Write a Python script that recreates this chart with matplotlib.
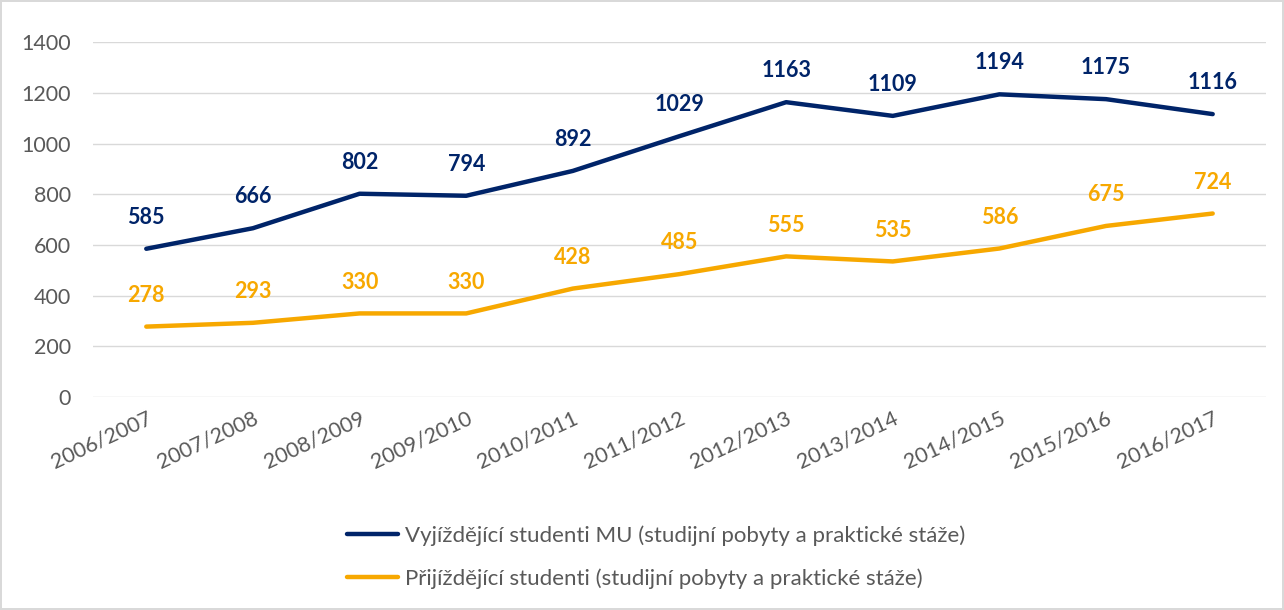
import matplotlib
matplotlib.use("Agg")
import matplotlib.pyplot as plt

plt.rcParams["font.family"] = ["Lato", "DejaVu Sans"]

years = ["2006/2007", "2007/2008", "2008/2009", "2009/2010", "2010/2011", "2011/2012",
         "2012/2013", "2013/2014", "2014/2015", "2015/2016", "2016/2017"]
outgoing = [585, 666, 802, 794, 892, 1029, 1163, 1109, 1194, 1175, 1116]
incoming = [278, 293, 330, 330, 428, 485, 555, 535, 586, 675, 724]

label_out = "Vyjíždějící studenti MU (studijní pobyty a praktické stáže)"
label_in = "Přijíždějící studenti (studijní pobyty a praktické stáže)"

blue = "#002469"
orange = "#F7A800"
grey_text = "#595959"

fig = plt.figure(figsize=(12.84, 6.10), dpi=100)
fig.patch.set_edgecolor("#d9d9d9")
fig.patch.set_linewidth(1.5)
ax = fig.add_axes([0.0724, 0.349, 0.9136, 0.582])

x = list(range(len(years)))
ax.plot(x, outgoing, color=blue, lw=3.2, solid_capstyle="round", label=label_out, zorder=3)
ax.plot(x, incoming, color=orange, lw=3.2, solid_capstyle="round", label=label_in, zorder=3)

# value labels above each point
for xi, v in zip(x, outgoing):
    ax.annotate(str(v), (xi, v), xytext=(0, 15), textcoords="offset points",
                ha="center", va="bottom", color=blue, fontsize=15.5, fontweight="bold")
for xi, v in zip(x, incoming):
    ax.annotate(str(v), (xi, v), xytext=(0, 15), textcoords="offset points",
                ha="center", va="bottom", color=orange, fontsize=15.5, fontweight="bold")

ax.set_xlim(-0.5, len(years) - 0.5)
ax.set_ylim(0, 1400)
ax.set_yticks(range(0, 1401, 200))
ax.set_xticks(x)
ax.set_xticklabels(years, rotation=25, ha="right", rotation_mode="anchor")
ax.grid(axis="y", color="#d9d9d9", lw=1)
ax.set_axisbelow(True)
for s in ax.spines.values():
    s.set_visible(False)
ax.tick_params(axis="both", length=0, labelsize=15.5, colors=grey_text)
ax.tick_params(axis="y", pad=16)
ax.tick_params(axis="x", pad=8)

leg = fig.legend(loc="center", bbox_to_anchor=(0.511, 0.087), ncol=1, frameon=False,
                 fontsize=16, handlelength=2.3, handletextpad=0.3, labelspacing=1.0)
for t in leg.get_texts():
    t.set_color(grey_text)

fig.savefig("out.png", dpi=100, edgecolor=fig.get_edgecolor())
